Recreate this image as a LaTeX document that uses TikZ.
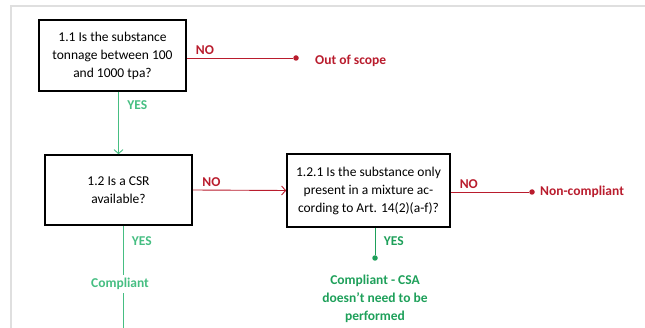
\documentclass[tikz,border=0pt]{standalone}
\usepackage{fontspec}
\setmainfont{Carlito}
\usepackage{xcolor}
\usepackage{tikz}
\usetikzlibrary{positioning}
\usetikzlibrary{arrows.meta}

\definecolor{nored}{RGB}{185,28,45}
\definecolor{yesgreen}{RGB}{70,190,130}
\definecolor{yesdark}{RGB}{30,160,90}

\tikzset{
    question/.style={draw, line width=1.6pt, align=center, inner sep=0pt,
        font=\fontsize{13.5}{18}\selectfont},
    answer/.style={font=\fontsize{13.5}{18}\selectfont\bfseries},
    enddot/.style={circle, fill, inner sep=0pt, minimum size=5.5pt},
}

\begin{document}
\begin{tikzpicture}[x=1pt, y=-1pt, >={Straight Barb[length=4pt, width=9pt]}]
            \useasboundingbox (0, 0) rectangle (645, 328);
            \draw[gray!25, line width=1.5pt] (11, 328) -- (11, 6) -- (645, 6);

            \node [question, minimum width=147pt, minimum height=71pt] (Q11) at (112.5, 55.5)
                {1.1 Is the substance\\tonnage between 100\\and 1000 tpa?};
            \node [question, minimum width=147pt, minimum height=70pt] (Q12) at (118.5, 190)
                {1.2 Is a CSR\\available?};
            \node [question, minimum width=163pt, minimum height=73pt] (Q121) at (368.5, 190.5)
                {1.2.1 Is the substance only\\present in a mixture ac-\\cording to Art. 14(2)(a-f)?};

            % end points
            \node [enddot, nored] (OOS) at (296, 58) {};
            \node [answer, nored, anchor=west, inner sep=0pt] (OOStext) at (315, 61) {Out of scope};
            \node [enddot, nored] (NC) at (532, 192) {};
            \node [answer, nored, anchor=west, inner sep=0pt] (NCtext) at (540, 192) {Non-compliant};
            \node [enddot, yesdark] (CSA) at (375, 258) {};
            \node [answer, yesdark, align=center, anchor=north, inner sep=0pt] (CSAtext) at (375, 275)
                {Compliant - CSA\\doesn't need to be\\performed};
            \node [answer, yesgreen] (Comp) at (120, 284) {Compliant};
            \coordinate (Cbot) at (123, 328);

            % NO branches
            \draw[nored, line width=.9pt] (Q11.east |- OOS) to node [answer, above, pos=.17] (No11) {NO} (OOS);
            \draw[nored, line width=.9pt, ->] (Q12.east) to node [answer, above, pos=.2] (No12) {NO} (Q121.west);
            \draw[nored, line width=.9pt] (Q121.east |- NC) to node [answer, above, pos=.23] (No121) {NO} (NC);

            % YES branches
            \draw[yesgreen, line width=.9pt, ->] (Q12.north |- Q11.south) to node [answer, right=5pt, pos=.22] (Yes11) {YES} (Q12.north);
            \draw[yesgreen, line width=.9pt] (Q12.south -| Cbot) to node [answer, right=5pt, pos=.31] (Yes12) {YES} (Comp.north -| Cbot);
            \draw[yesgreen, line width=.9pt] (Comp.south -| Cbot) to (Cbot);
            \draw[yesdark, line width=.9pt] (Q121.south -| CSA) to node [answer, right=5pt, pos=.48] (Yes121) {YES} (CSA);
        \end{tikzpicture}
\end{document}
